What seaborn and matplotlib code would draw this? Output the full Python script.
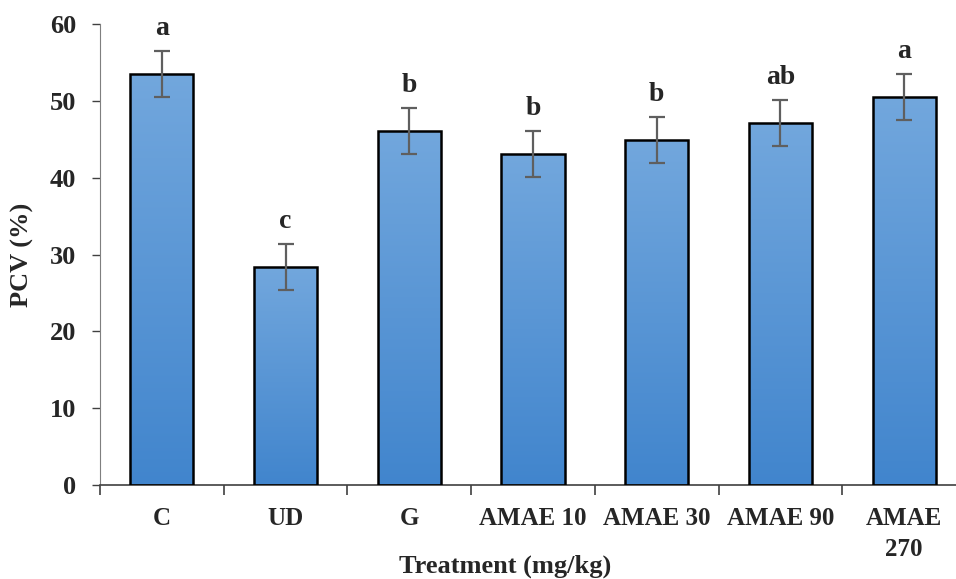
import matplotlib
matplotlib.use("Agg")
import numpy as np
import pandas as pd
import matplotlib.pyplot as plt
import seaborn as sns
from matplotlib.colors import LinearSegmentedColormap

# data
treatments = ["C", "UD", "G", "AMAE 10", "AMAE 30", "AMAE 90", "AMAE\n270"]
pcv_mean = [53.5, 28.4, 46.1, 43.1, 44.9, 47.1, 50.5]
pcv_err = [3.0, 3.0, 3.0, 3.0, 3.0, 3.0, 3.0]
letters = ["a", "c", "b", "b", "b", "ab", "a"]

df = pd.DataFrame({"treatment": treatments, "pcv": pcv_mean})

sns.set_style("white")
plt.rcParams["font.family"] = ["Liberation Serif", "DejaVu Serif"]
plt.rcParams["font.weight"] = "bold"

fig = plt.figure(figsize=(9.56, 5.79), dpi=100)
ax = fig.add_axes([100 / 956, 94 / 579, 866 / 956, 461 / 579])

sns.barplot(data=df, x="treatment", y="pcv", color="#5597d8", saturation=1,
            width=0.51, edgecolor="black", linewidth=1.8, ax=ax, errorbar=None)

# vertical gradient fill, clipped to each bar
grad = LinearSegmentedColormap.from_list("bar", ["#4185cd", "#72a7dd"])
for p in ax.patches:
    x0, y0 = p.get_x(), p.get_y()
    w, h = p.get_width(), p.get_height()
    im = ax.imshow(np.linspace(0, 1, 256).reshape(-1, 1), cmap=grad,
                   origin="lower", aspect="auto",
                   extent=[x0, x0 + w, y0, y0 + h], zorder=p.get_zorder())
    im.set_clip_path(p)
    p.set_facecolor("none")
    p.set_zorder(3)

ax.errorbar(range(len(treatments)), pcv_mean, yerr=pcv_err, fmt="none",
            ecolor="#5f5f5f", elinewidth=1.6, capsize=6, capthick=1.6, zorder=5)

for i, (m, e, l) in enumerate(zip(pcv_mean, pcv_err, letters)):
    ax.text(i, m + e + 1.3, l, ha="center", va="bottom", fontsize=20,
            fontweight="bold")

ax.set_ylim(0, 60)
ax.set_xlim(-0.5, 6.5)
ax.set_yticks(range(0, 61, 10))
ax.tick_params(axis="y", labelsize=19, length=6, width=1, color="#404040",
               direction="out", left=True, pad=11)
# category ticks sit between bars
ax.set_xticks([i - 0.5 for i in range(len(treatments))], minor=True)
ax.tick_params(axis="x", which="minor", length=7, width=1.2, color="#404040",
               direction="out", bottom=True)
ax.tick_params(axis="x", which="major", length=0, labelsize=18, pad=16)
for lab in ax.get_xticklabels() + ax.get_yticklabels():
    lab.set_fontweight("bold")
    lab.set_linespacing(1.45)

sns.despine(ax=ax)
ax.spines["left"].set_color("#7f7f7f")
ax.spines["bottom"].set_color("#404040")
ax.spines["bottom"].set_linewidth(1.2)

ax.set_ylabel("PCV (%)", fontsize=19, fontweight="bold", va="center")
ax.yaxis.set_label_coords(-0.090, 0.5)
ax.set_xlabel("Treatment (mg/kg)", fontsize=19, fontweight="bold", va="center")
ax.xaxis.set_label_coords(405 / 866, -0.176)

fig.savefig("out.png", dpi=100)
